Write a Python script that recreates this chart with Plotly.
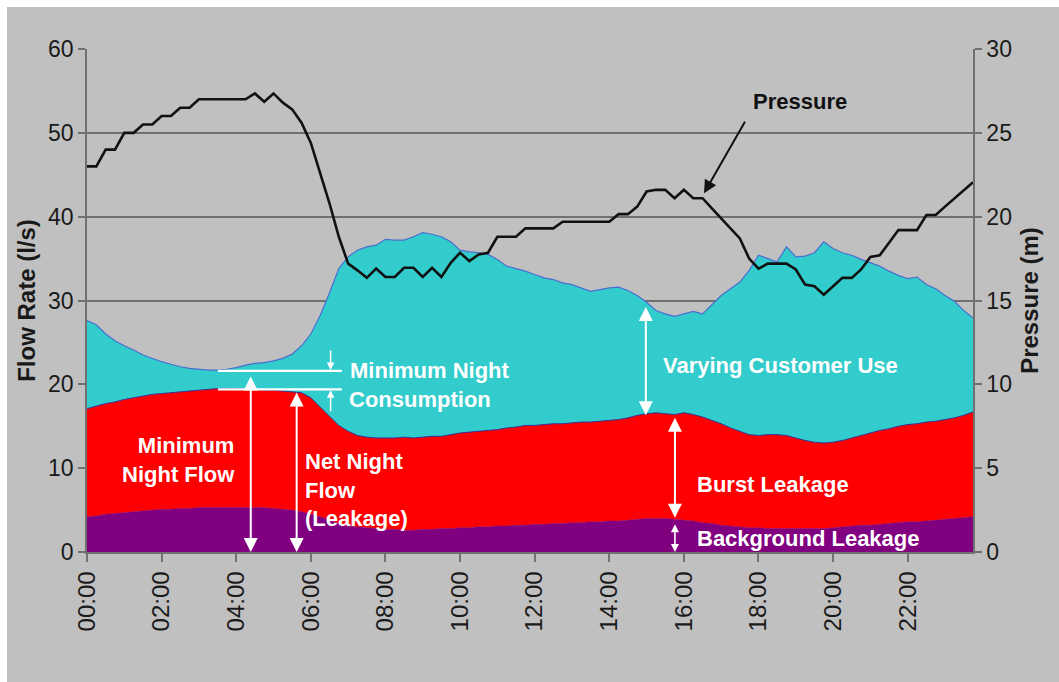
import numpy as np
import plotly.graph_objects as go

# 15-minute samples over a day (hours)
hours = np.arange(96) * 0.25

tick_hours = [0, 2, 4, 6, 8, 10, 12, 14, 16, 18, 20, 22]
tick_labels = ["00:00", "02:00", "04:00", "06:00", "08:00", "10:00",
               "12:00", "14:00", "16:00", "18:00", "20:00", "22:00"]

# Cumulative flow levels (l/s)
background_leakage = [
    4.2, 4.3, 4.5, 4.6, 4.7, 4.8, 4.9, 5.0, 5.1, 5.1, 5.2, 5.2,
    5.3, 5.3, 5.3, 5.3, 5.3, 5.3, 5.3, 5.3, 5.2, 5.1, 5.0, 4.8,
    4.5, 4.2, 3.8, 3.4, 3.1, 3.0, 2.9, 2.8, 2.7, 2.7, 2.6, 2.6,
    2.7, 2.7, 2.8, 2.8, 2.9, 2.9, 3.0, 3.0, 3.1, 3.1, 3.2, 3.2,
    3.3, 3.3, 3.4, 3.4, 3.5, 3.5, 3.6, 3.6, 3.7, 3.7, 3.8, 3.9,
    4.0, 4.0, 4.0, 3.9, 3.8, 3.7, 3.5, 3.4, 3.2, 3.1, 3.0, 2.9,
    2.9, 2.8, 2.8, 2.8, 2.8, 2.8, 2.8, 2.8, 2.9, 3.0, 3.1, 3.2,
    3.2, 3.3, 3.4, 3.5, 3.6, 3.6, 3.7, 3.8, 3.9, 4.0, 4.1, 4.2]

total_leakage = [
    17.1, 17.4, 17.7, 17.9, 18.2, 18.4, 18.6, 18.8, 18.9, 19.0, 19.1, 19.2,
    19.3, 19.4, 19.5, 19.5, 19.5, 19.4, 19.4, 19.3, 19.3, 19.2, 19.1, 19.0,
    18.4, 17.3, 16.1, 15.1, 14.4, 13.9, 13.7, 13.6, 13.6, 13.6, 13.7, 13.6,
    13.7, 13.8, 13.8, 14.0, 14.2, 14.3, 14.4, 14.5, 14.6, 14.8, 14.9, 15.1,
    15.1, 15.2, 15.3, 15.3, 15.4, 15.5, 15.5, 15.6, 15.7, 15.8, 16.0, 16.3,
    16.5, 16.6, 16.5, 16.4, 16.6, 16.4, 16.1, 15.7, 15.3, 14.8, 14.4, 14.0,
    13.9, 14.0, 14.0, 13.9, 13.6, 13.3, 13.1, 13.0, 13.1, 13.3, 13.6, 13.9,
    14.2, 14.5, 14.7, 15.0, 15.2, 15.3, 15.5, 15.6, 15.8, 16.0, 16.3, 16.7]

total_flow = [
    27.6, 27.1, 26.0, 25.2, 24.6, 24.1, 23.5, 23.1, 22.7, 22.4, 22.1, 21.9,
    21.8, 21.7, 21.7, 21.8, 22.0, 22.3, 22.5, 22.6, 22.8, 23.1, 23.6, 24.6,
    26.0, 28.2, 30.9, 33.8, 35.2, 36.0, 36.4, 36.6, 37.3, 37.2, 37.2, 37.6,
    38.1, 37.9, 37.6, 37.0, 36.0, 35.8, 35.7, 35.5, 34.9, 34.1, 33.8, 33.5,
    33.1, 32.7, 32.5, 32.1, 31.9, 31.5, 31.1, 31.3, 31.5, 31.6, 31.2, 30.6,
    29.8, 28.8, 28.4, 28.1, 28.4, 28.7, 28.4, 29.5, 30.6, 31.4, 32.2, 33.6,
    35.4, 35.0, 34.6, 36.4, 35.2, 35.3, 35.7, 37.0, 36.2, 35.7, 35.4, 34.9,
    34.5, 34.1, 33.5, 33.0, 32.6, 32.8, 31.9, 31.4, 30.6, 29.9, 28.8, 27.9]

# Pressure (m)
pressure = [
    23.0, 23.0, 24.0, 24.0, 25.0, 25.0, 25.5, 25.5, 26.0, 26.0, 26.5, 26.5,
    27.0, 27.0, 27.0, 27.0, 27.0, 27.0, 27.35, 26.85, 27.35, 26.8, 26.4, 25.6,
    24.4, 22.6, 20.8, 18.8, 17.2, 16.8, 16.35, 16.9, 16.4, 16.4, 16.95, 16.95,
    16.4, 16.95, 16.4, 17.25, 17.85, 17.35, 17.75, 17.85, 18.8, 18.8, 18.8, 19.3,
    19.3, 19.3, 19.3, 19.7, 19.7, 19.7, 19.7, 19.7, 19.7, 20.15, 20.15, 20.6,
    21.5, 21.6, 21.6, 21.1, 21.6, 21.1, 21.1, 20.5, 19.9, 19.3, 18.7, 17.5,
    16.9, 17.2, 17.2, 17.2, 16.85, 15.95, 15.85, 15.35, 15.85, 16.35, 16.35, 16.85,
    17.6, 17.7, 18.45, 19.2, 19.2, 19.2, 20.1, 20.1, 20.6, 21.1, 21.55, 22.05]

FONT = "Liberation Sans, Arial, sans-serif"
BG = "#c0c0c0"
GRID = "#707070"
TXT = "#1a1a1a"

fig = go.Figure()
fig.add_trace(go.Scatter(x=hours, y=background_leakage, mode="lines",
                         fill="tozeroy", fillcolor="#800080",
                         line=dict(color="#800080", width=0.5), hoverinfo="skip"))
fig.add_trace(go.Scatter(x=hours, y=total_leakage, mode="lines",
                         fill="tonexty", fillcolor="#ff0000",
                         line=dict(color="#3a2a8a", width=1), hoverinfo="skip"))
fig.add_trace(go.Scatter(x=hours, y=total_flow, mode="lines",
                         fill="tonexty", fillcolor="#33cccc",
                         line=dict(color="#4a6fd0", width=1.2), hoverinfo="skip"))
fig.add_trace(go.Scatter(x=hours, y=pressure, mode="lines", yaxis="y2",
                         line=dict(color="#111111", width=2.6), hoverinfo="skip"))

# gray chart background with thin white border at top/left
fig.add_shape(type="rect", xref="paper", yref="paper",
              x0=-0.0903, x1=1.2, y0=-0.3, y1=1.0835,
              fillcolor=BG, line=dict(width=0), layer="below")

# white reference lines for minimum night flow / consumption
for yv in [21.6, 19.4]:
    fig.add_shape(type="line", xref="x", yref="y", x0=3.51, x1=6.83, y0=yv, y1=yv,
                  line=dict(color="white", width=2.2))

annotations = []

def arrow(xh, y_from, y_to, both=True, size=1.4, width=2):
    annotations.append(dict(x=xh, y=y_to, ax=xh, ay=y_from, xref="x", yref="y",
                            axref="x", ayref="y", text="", showarrow=True,
                            arrowhead=2, startarrowhead=2,
                            arrowside="end+start" if both else "end",
                            arrowsize=size, startarrowsize=size,
                            arrowwidth=width, arrowcolor="white"))

arrow(4.39, 21.1, 0.0)
arrow(5.62, 19.2, 0.0)
arrow(14.98, 29.4, 16.3)
arrow(15.76, 16.2, 4.1)
arrow(15.76, 3.5, 0.0, size=1.0, width=1.6)
arrow(6.53, 24.2, 21.7, both=False, size=1.0, width=1.5)
arrow(6.53, 16.6, 19.3, both=False, size=1.0, width=1.5)

def label(text, xh, yv, anchor="left", align="left", color="white", size=22):
    annotations.append(dict(x=xh, y=yv, xref="x", yref="y", text=text,
                            showarrow=False, xanchor=anchor, yanchor="middle",
                            align=align,
                            font=dict(family=FONT, size=size, color=color)))

label("<b>Minimum Night</b>", 6.99, 21.7)
label("<b>Consumption</b>", 6.96, 18.25)
label("<b>Minimum<br>Night Flow</b>", 4.01, 11.0, anchor="right", align="right")
label("<b>Net Night<br>Flow<br>(Leakage)</b>", 5.78, 7.4)
label("<b>Varying Customer Use</b>", 15.39, 22.3)
label("<b>Burst Leakage</b>", 16.3, 8.0)
label("<b>Background Leakage</b>", 16.3, 1.67)
label("<b>Pressure</b>", 19.11, 53.7, anchor="center", align="center", color="#111111")

# black arrow pointing at the pressure line
annotations.append(dict(x=16.54, y=42.8, ax=17.66, ay=51.5, xref="x", yref="y",
                        axref="x", ayref="y", text="", showarrow=True,
                        arrowhead=2, arrowsize=1.3, arrowwidth=2,
                        arrowcolor="#111111"))

fig.update_layout(
    width=1059, height=682,
    margin=dict(l=87, r=86, t=49, b=130),
    paper_bgcolor="white", plot_bgcolor=BG,
    showlegend=False,
    font=dict(family=FONT, size=23, color=TXT),
    annotations=annotations,
    xaxis=dict(range=[0, 23.75], tickvals=tick_hours, ticktext=tick_labels,
               tickangle=-90, showgrid=False, zeroline=False,
               showline=True, linecolor=GRID, linewidth=1.5,
               ticks="outside", ticklen=8, tickcolor=GRID, tickwidth=1.5,
               tickfont=dict(size=24, color=TXT)),
    yaxis=dict(range=[0, 60], dtick=10, showgrid=True, gridcolor=GRID, gridwidth=1.5,
               zeroline=False, showline=True, linecolor=GRID, linewidth=1.5,
               ticks="outside", ticklen=7, tickcolor=GRID, tickwidth=1.5,
               tickfont=dict(size=23, color=TXT), automargin=False,
               title=dict(text="<b>Flow Rate (l/s)</b>", standoff=6,
                          font=dict(size=24, color=TXT))),
    yaxis2=dict(range=[0, 30], dtick=5, overlaying="y", side="right",
                showgrid=False, zeroline=False, showline=True, linecolor=GRID,
                linewidth=1.5, ticks="outside", ticklen=7, tickcolor=GRID,
                tickwidth=1.5, tickfont=dict(size=23, color=TXT), automargin=False,
                title=dict(text="<b>Pressure (m)</b>", standoff=10,
                           font=dict(size=24, color=TXT))),
)

fig.write_html("out.html", config={"displayModeBar": False},
               post_script="document.body.style.margin='0';document.body.style.overflow='hidden';")
